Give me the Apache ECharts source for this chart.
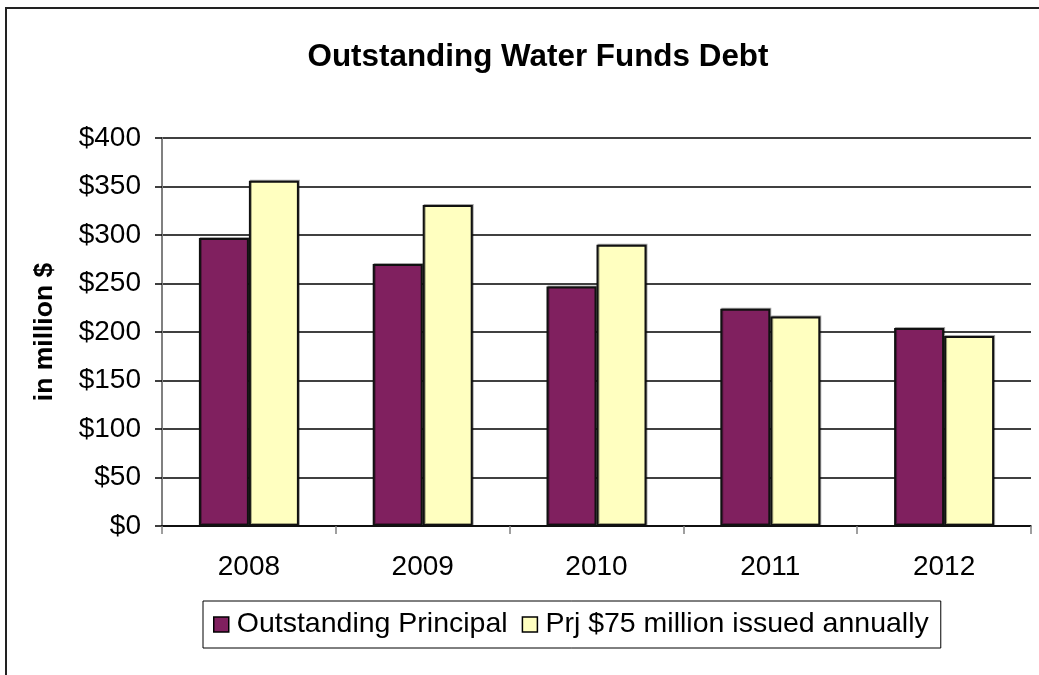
<!DOCTYPE html>
<html>
<head>
<meta charset="utf-8">
<script src="https://cdn.jsdelivr.net/npm/echarts@6/dist/echarts.min.js"></script>
<style>
html,body{margin:0;padding:0;background:#fff;}
#chart{width:1039px;height:675px;}
</style>
</head>
<body>
<div id="chart"></div>
<script>
const categories = ['2008', '2009', '2010', '2011', '2012'];
const outstandingPrincipal = [297, 270, 247, 224, 204];
const projected75 = [356, 331, 290, 216, 196];
const seriesNames = ['Outstanding Principal', 'Prj $75 million issued annually'];
const titleText = 'Outstanding Water Funds Debt';
const yAxisName = 'in million $';

const font = 'Liberation Sans, Arial, sans-serif';
const chart = echarts.init(document.getElementById('chart'));
chart.setOption({
  backgroundColor: '#fff',
  animation: false,
  graphic: [{
    type: 'rect',
    shape: { x: 6, y: 8, width: 1200, height: 800 },
    style: { fill: 'none', stroke: '#222', lineWidth: 2 },
    silent: true
  }],
  title: {
    text: titleText,
    left: 533, top: 37, textAlign: 'center',
    textStyle: { fontFamily: font, fontWeight: 'bold', fontSize: 31.4, color: '#000' }
  },
  legend: {
    data: seriesNames,
    left: 203, top: 601,
    padding: [9, 12, 9, 10],
    borderColor: '#000', borderWidth: 1,
    itemWidth: 15, itemHeight: 15, itemGap: 14,
    icon: 'rect',
    itemStyle: { borderColor: '#000', borderWidth: 1.5 },
    textStyle: { fontFamily: font, fontSize: 28.5, color: '#000', padding: [0, 0, 0, 3] }
  },
  grid: { left: 162, right: 8, top: 138, bottom: 149, containLabel: false },
  xAxis: {
    type: 'category',
    data: categories,
    axisLine: { show: true, lineStyle: { color: '#000', width: 1.5 } },
    axisTick: { show: true, length: 8, inside: false, lineStyle: { color: '#808080', width: 1.5 } },
    axisLabel: { fontFamily: font, fontSize: 28, color: '#000', margin: 27 }
  },
  yAxis: {
    type: 'value',
    min: 0, max: 400, interval: 50,
    name: yAxisName,
    nameLocation: 'middle',
    nameGap: 104,
    nameRotate: 90,
    nameTextStyle: { fontFamily: font, fontWeight: 'bold', fontSize: 26.5, color: '#000' },
    axisLine: { show: true, lineStyle: { color: '#808080', width: 2 } },
    axisTick: { show: true, length: 7, lineStyle: { color: '#000', width: 1.5 } },
    axisLabel: { fontFamily: font, fontSize: 28, color: '#000', margin: 21, formatter: v => '$' + v },
    splitLine: { show: true, lineStyle: { color: '#000', width: 1.5 } }
  },
  series: [
    {
      name: seriesNames[0], type: 'bar', data: outstandingPrincipal,
      barWidth: 50, barGap: '0%',
      itemStyle: { color: '#80205F', borderColor: '#111', borderWidth: 2,
        shadowColor: 'rgba(0,0,0,0.35)', shadowBlur: 0, shadowOffsetX: 1, shadowOffsetY: -1 }
    },
    {
      name: seriesNames[1], type: 'bar', data: projected75,
      barWidth: 50, barGap: '0%',
      itemStyle: { color: '#FFFFC0', borderColor: '#111', borderWidth: 2,
        shadowColor: 'rgba(0,0,0,0.35)', shadowBlur: 0, shadowOffsetX: 1, shadowOffsetY: -1 }
    }
  ]
});
</script>
</body>
</html>
